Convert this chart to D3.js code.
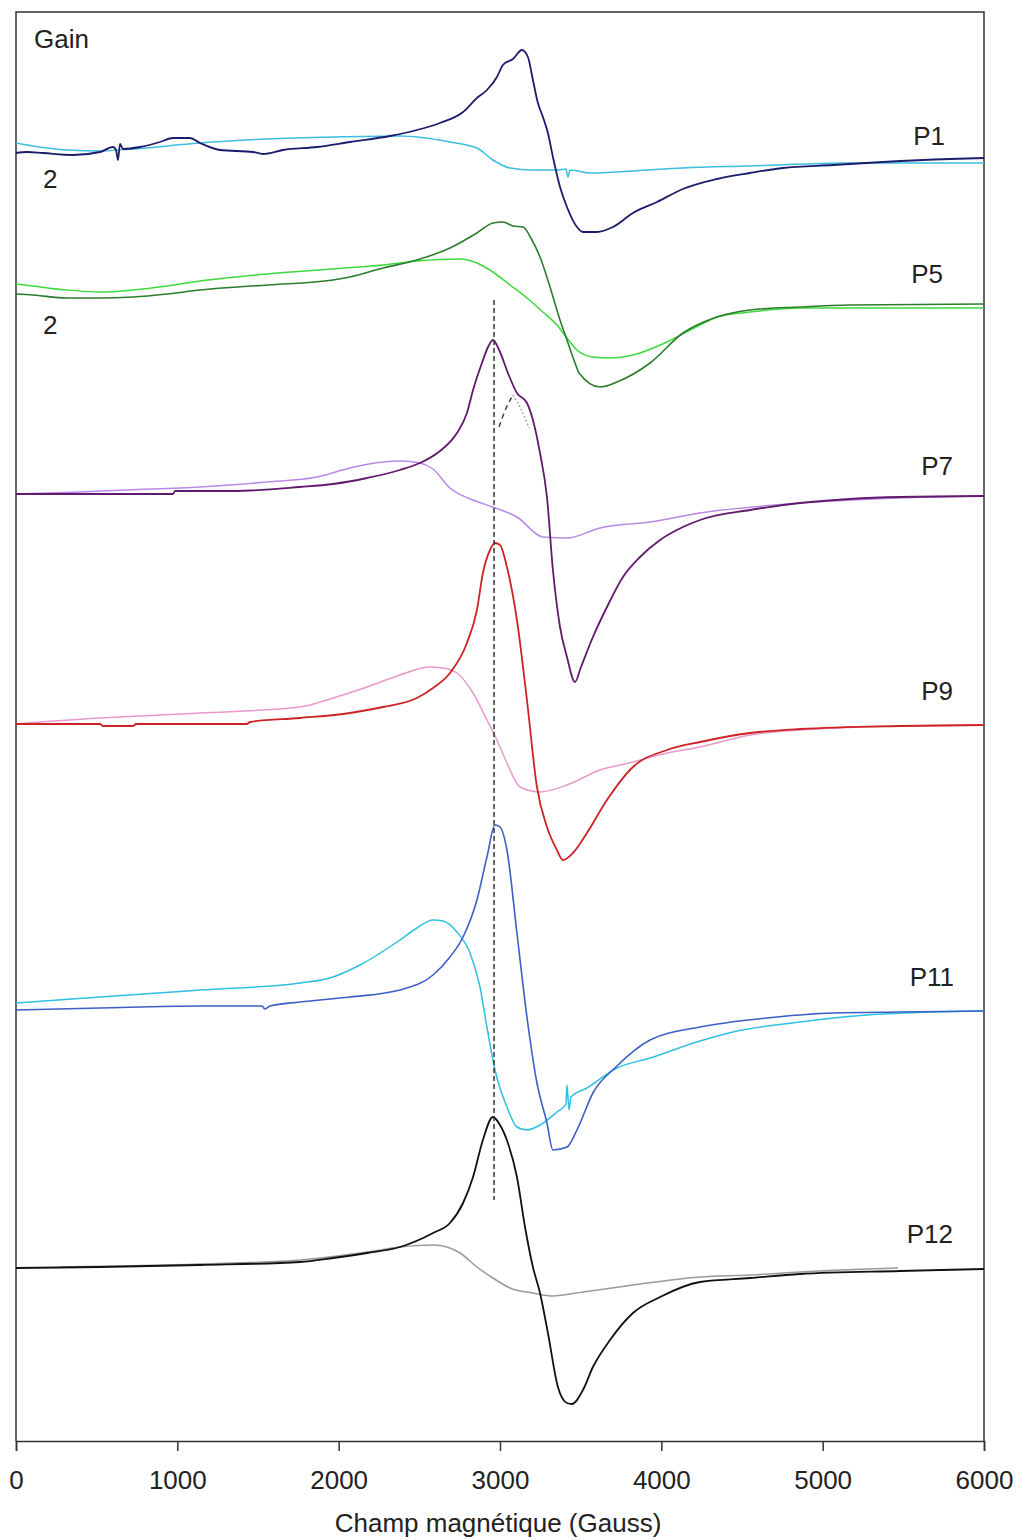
<!DOCTYPE html>
<html><head><meta charset="utf-8">
<script src="https://cdn.jsdelivr.net/npm/d3@7"></script>
<style>body{margin:0;background:#fff}svg{display:block}text{font-family:"Liberation Sans",Arial,sans-serif;fill:#222}</style>
</head><body>
<svg id="chart" width="1019" height="1540"></svg>
<script>
// ---- data: magnetic field (Gauss), signal (arbitrary units, stacked traces) ----
const xTicks = [0, 1000, 2000, 3000, 4000, 5000, 6000];
const xLabel = "Champ magnétique (Gauss)";
const gainLabel = "Gain";
const gainValues = ["2", "2"];
const spectrumLabels = ["P1", "P5", "P7", "P9", "P11", "P12"];
const refField = 2963;              // dashed reference line (Gauss)
const refRange = [241, 1141];       // vertical extent (a.u.)

const p1Dark = [[0,1288],[68,1289],[167,1288],[353,1286],[521,1289],[601,1294],[620,1291],[632,1281],[645,1297],[663,1292],[769,1294],[893,1299],[973,1303],[1078,1303],[1140,1298],[1264,1291],[1469,1289],[1531,1287],[1655,1291],[1866,1294],[2070,1299],[2318,1305],[2485,1311],[2628,1318],[2771,1329],[2857,1343],[2919,1351],[2981,1364],[3018,1376],[3080,1382],[3136,1391],[3173,1384],[3204,1361],[3235,1338],[3266,1324],[3297,1308],[3328,1284],[3372,1254],[3415,1234],[3477,1214],[3514,1209],[3601,1209],[3700,1214],[3824,1228],[3973,1239],[4134,1252],[4345,1262],[4550,1268],[4754,1273],[5064,1276],[5374,1279],[5789,1282],[6000,1283]];
const p1Light = [[0,1298],[105,1295],[316,1291],[521,1290],[725,1292],[936,1295],[1140,1298],[1556,1302],[1965,1304],[2380,1305],[2690,1299],[2857,1293],[2956,1281],[3062,1273],[3204,1271],[3353,1271],[3409,1272],[3421,1264],[3434,1271],[3558,1268],[3824,1270],[4134,1273],[4550,1275],[5169,1278],[6000,1278]];
const p5Dark = [[0,1147],[105,1146],[316,1143],[521,1143],[725,1144],[936,1147],[1140,1151],[1556,1156],[1965,1161],[2070,1164],[2275,1173],[2485,1181],[2690,1193],[2857,1208],[2956,1218],[3018,1219],[3080,1215],[3142,1214],[3198,1201],[3248,1184],[3310,1154],[3372,1121],[3415,1101],[3465,1078],[3490,1068],[3620,1054],[3725,1059],[3930,1078],[4134,1108],[4345,1124],[4550,1131],[4860,1134],[5169,1136],[6000,1137]];
const p5Light = [[0,1157],[105,1155],[316,1151],[521,1149],[725,1151],[936,1155],[1140,1160],[1556,1167],[1965,1172],[2275,1176],[2485,1180],[2752,1182],[2857,1178],[2956,1169],[3062,1156],[3167,1143],[3266,1129],[3353,1116],[3415,1103],[3477,1091],[3576,1084],[3682,1083],[3824,1086],[4035,1099],[4240,1116],[4345,1124],[4550,1129],[4860,1133],[5169,1133],[6000,1133]];
const p7Dark = [[0,947],[973,947],[985,950],[1345,950],[1760,954],[1965,957],[2176,963],[2380,971],[2504,978],[2628,990],[2733,1008],[2795,1028],[2833,1051],[2888,1078],[2926,1094],[2956,1101],[3000,1089],[3049,1068],[3105,1048],[3167,1038],[3204,1021],[3248,988],[3291,944],[3328,871],[3372,814],[3415,784],[3465,759],[3502,774],[3576,804],[3663,834],[3762,864],[3868,884],[3992,901],[4134,914],[4240,921],[4550,931],[4860,938],[5169,942],[5479,944],[6000,945]];
const p7Light = [[0,947],[397,949],[688,951],[1140,954],[1556,959],[1866,964],[2070,973],[2275,979],[2380,980],[2504,978],[2585,972],[2690,953],[2833,941],[2956,934],[3105,924],[3266,904],[3415,903],[3620,913],[3930,919],[4240,928],[4860,938],[5479,943],[6000,945]];
const p9Dark = [[0,717],[521,717],[539,715],[725,715],[744,717],[1432,717],[1450,719],[1760,723],[2070,728],[2275,734],[2485,743],[2585,753],[2690,768],[2795,798],[2857,831],[2894,868],[2938,891],[2969,898],[3000,896],[3043,874],[3105,821],[3167,741],[3229,654],[3291,614],[3353,591],[3390,581],[3452,588],[3539,608],[3663,641],[3824,674],[4035,691],[4240,699],[4550,708],[4860,712],[5479,715],[6000,716]];
const p9Light = [[0,717],[149,719],[521,723],[1140,728],[1760,734],[1965,743],[2176,754],[2380,766],[2566,774],[2647,773],[2733,768],[2833,748],[2919,721],[2981,701],[3043,678],[3124,654],[3248,649],[3415,656],[3620,671],[3824,679],[4035,688],[4240,694],[4550,706],[4860,711],[5479,715],[6000,716]];
const p11Dark = [[0,431],[521,433],[1140,435],[1525,435],[1543,432],[1574,435],[1760,439],[2070,444],[2380,451],[2585,466],[2690,484],[2771,504],[2857,541],[2919,584],[2969,616],[3000,614],[3043,591],[3105,508],[3167,424],[3229,358],[3291,318],[3328,291],[3415,294],[3477,311],[3576,348],[3725,375],[3930,401],[4240,414],[4655,423],[5064,428],[5479,429],[6000,430]];
const p11Light = [[0,438],[521,444],[1140,451],[1760,458],[1946,463],[2132,476],[2380,501],[2485,513],[2585,521],[2647,520],[2733,509],[2814,488],[2876,454],[2919,414],[2969,371],[3043,334],[3105,314],[3167,311],[3248,316],[3353,329],[3409,337],[3415,356],[3428,331],[3440,344],[3539,353],[3725,373],[3930,383],[4240,400],[4444,409],[4860,419],[5275,426],[5684,429],[6000,430]];
const p12Dark = [[0,173],[521,174],[1140,176],[1760,179],[1965,183],[2176,188],[2380,194],[2585,208],[2690,218],[2771,238],[2833,264],[2894,301],[2956,324],[3000,316],[3049,298],[3105,264],[3155,214],[3204,174],[3248,148],[3297,108],[3359,54],[3415,38],[3446,37],[3514,51],[3576,74],[3682,101],[3824,128],[3992,144],[4240,159],[4550,163],[4860,167],[5479,170],[6000,172]];
const p12Light = [[273,174],[1140,177],[1760,181],[2176,189],[2380,194],[2585,196],[2671,194],[2752,188],[2857,174],[2956,163],[3062,153],[3204,148],[3328,145],[3514,149],[3824,156],[4240,164],[4550,166],[4860,169],[5467,173]];
const p7Shoulder = [[2994,1014],[3030,1030],[3080,1046]];
const p7ShoulderFit = [[3080,1046],[3130,1032],[3180,1013]];

// ---- layout ----
const W = 1019, H = 1540;
const plot = {left: 16, right: 984, top: 12, bottom: 1441};
const x = d3.scaleLinear().domain([0, 6000]).range([plot.left, plot.right]);
const y = d3.scaleLinear().domain([0, plot.bottom - plot.top]).range([plot.bottom, plot.top]);

const svg = d3.select("#chart");
svg.append("rect").attr("width", W).attr("height", H).attr("fill", "#fff");

// frame
svg.append("path")
  .attr("d", `M${plot.left},${plot.bottom}V${plot.top}H${plot.right}V${plot.bottom}`)
  .attr("fill", "none").attr("stroke", "#333").attr("stroke-width", 1.5);

const line = d3.line().x(d => x(d[0])).y(d => y(d[1])).curve(d3.curveMonotoneX);

const series = [
  {data: p1Light,  color: "#3dbde0", w: 1.5},
  {data: p1Dark,   color: "#1c1c6c", w: 1.8},
  {data: p5Light,  color: "#3cd93c", w: 1.5},
  {data: p5Dark,   color: "#2b7d2b", w: 1.6},
  {data: p7Light,  color: "#b88ae6", w: 1.5},
  {data: p7Dark,   color: "#621a6c", w: 1.8},
  {data: p9Light,  color: "#e89acb", w: 1.5},
  {data: p9Dark,   color: "#cc2424", w: 1.8},
  {data: p11Light, color: "#2ec0e0", w: 1.5},
  {data: p11Dark,  color: "#3c5fc6", w: 1.6},
  {data: p12Light, color: "#9a9a9a", w: 1.5},
  {data: p12Dark,  color: "#111111", w: 1.8}
];

svg.append("g").selectAll("path").data(series).join("path")
  .attr("d", d => line(d.data))
  .attr("fill", "none")
  .attr("stroke", d => d.color)
  .attr("stroke-width", d => d.w)
  .attr("stroke-linejoin", "round");

// shoulder annotations on P7
svg.append("path").attr("d", line(p7Shoulder)).attr("fill", "none")
  .attr("stroke", "#444").attr("stroke-width", 1.5).attr("stroke-dasharray", "5,4");
svg.append("path").attr("d", line(p7ShoulderFit)).attr("fill", "none")
  .attr("stroke", "#aaa").attr("stroke-width", 1.5).attr("stroke-dasharray", "2,2");

// reference dashed line
svg.append("line")
  .attr("x1", x(refField)).attr("x2", x(refField))
  .attr("y1", y(refRange[1])).attr("y2", y(refRange[0]))
  .attr("stroke", "#333").attr("stroke-width", 1.5).attr("stroke-dasharray", "5,3");

// x axis
const axis = svg.append("g").attr("transform", `translate(0,${plot.bottom})`)
  .call(d3.axisBottom(x).tickValues(xTicks).tickSize(10).tickPadding(18).tickFormat(d3.format("d")));
axis.select(".domain").attr("stroke", "#333").attr("stroke-width", 1.5);
axis.selectAll(".tick line").attr("stroke", "#333").attr("stroke-width", 1.5);
axis.selectAll(".tick text").attr("font-size", 26).attr("fill", "#222")
  .attr("font-family", "Liberation Sans, Arial, sans-serif").attr("dy", null).attr("y", 48);

svg.append("text").attr("x", (plot.left + plot.right) / 2 - 2).attr("y", 1532)
  .attr("text-anchor", "middle").attr("font-size", 26).text(xLabel);

// labels
svg.append("text").attr("x", 34).attr("y", 48).attr("font-size", 26).text(gainLabel);
const gainPos = [188, 334];
gainValues.forEach((g, i) => svg.append("text").attr("x", 43).attr("y", gainPos[i]).attr("font-size", 26).text(g));

const labelPos = [[945,145],[943,283],[953,475],[953,700],[954,986],[953,1243]];
spectrumLabels.forEach((t, i) => svg.append("text")
  .attr("x", labelPos[i][0]).attr("y", labelPos[i][1])
  .attr("text-anchor", "end").attr("font-size", 26).text(t));
</script>
</body></html>
